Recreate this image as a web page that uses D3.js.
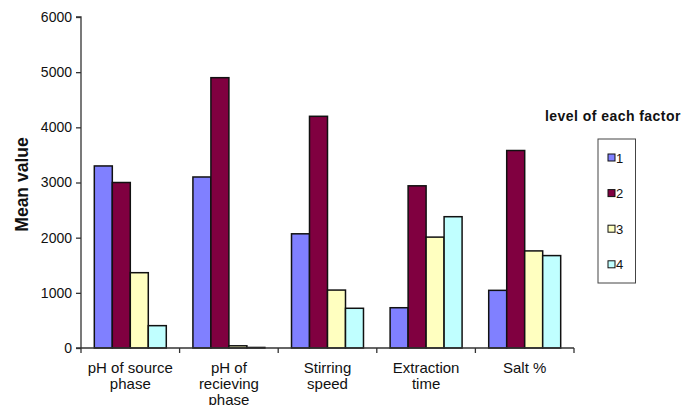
<!DOCTYPE html>
<html>
<head>
<meta charset="utf-8">
<script src="https://cdn.jsdelivr.net/npm/d3@7"></script>
<style>
  body { margin: 0; background: #fff; }
  svg { display: block; }
  text { font-family: Arial, "Liberation Sans", sans-serif; fill: #111; }
</style>
</head>
<body>
<svg id="chart" width="681" height="405"></svg>
<script>
const categories = [["pH of source", "phase"], ["pH of", "recieving", "phase"], ["Stirring", "speed"], ["Extraction", "time"], ["Salt %"]];
const categoryKeys = ["pH of source phase", "pH of recieving phase", "Stirring speed", "Extraction time", "Salt %"];
const seriesNames = ["1", "2", "3", "4"];
const level1 = [3300, 3100, 2070, 730, 1045];
const level2 = [3000, 4900, 4200, 2940, 3580];
const level3 = [1365, 40, 1050, 2010, 1760];
const level4 = [405, 10, 720, 2380, 1675];
const yTicks = [0, 1000, 2000, 3000, 4000, 5000, 6000];
const colors = ["#8080FF", "#800040", "#FFFFC0", "#C0FFFF"];
const legendTitle = "level of each factor";
const yTitle = "Mean value";

const series = [level1, level2, level3, level4];
const svg = d3.select("#chart");

const mLeft = 81, mRight = 574, mTop = 17, mBottom = 348;

const x0 = d3.scaleBand().domain(categoryKeys).range([mLeft, mRight]).paddingInner(0).paddingOuter(0);
const x1 = d3.scaleBand().domain(seriesNames).range([0, x0.bandwidth()]).paddingInner(0).paddingOuter(0.74);
const y = d3.scaleLinear().domain([0, 6000]).range([mBottom, mTop]);

// bars
const groups = svg.append("g").selectAll("g").data(categoryKeys).join("g")
  .attr("transform", d => `translate(${x0(d)},0)`);
groups.selectAll("rect")
  .data((d, i) => seriesNames.map((s, j) => ({ s, v: series[j][i], j })))
  .join("rect")
  .attr("x", d => x1(d.s))
  .attr("width", x1.bandwidth())
  .attr("y", d => y(d.v))
  .attr("height", d => mBottom - y(d.v))
  .attr("fill", d => colors[d.j])
  .attr("stroke", "#111")
  .attr("stroke-width", 1.5);

// y axis
const yAxis = svg.append("g").attr("transform", `translate(${mLeft},0)`)
  .call(d3.axisLeft(y).tickValues(yTicks).tickSize(5).tickPadding(4).tickFormat(d3.format("d")));
yAxis.select(".domain").attr("stroke", "#333").attr("stroke-width", 1.3).attr("d", `M-5,${mTop}H0V${mBottom}`);
yAxis.selectAll(".tick line").attr("stroke", "#333").attr("stroke-width", 1.3);
yAxis.selectAll(".tick text").style("font-size", "14px").style("font-family", "Arial, 'Liberation Sans', sans-serif").attr("fill", "#111");

// x axis
const xAxisG = svg.append("g");
xAxisG.append("line").attr("x1", mLeft - 5).attr("x2", mRight).attr("y1", mBottom).attr("y2", mBottom)
  .attr("stroke", "#333").attr("stroke-width", 1.3);
const boundaries = categoryKeys.map(k => x0(k)).concat([mRight]);
xAxisG.selectAll("line.tk").data(boundaries).join("line").attr("class", "tk")
  .attr("x1", d => d).attr("x2", d => d).attr("y1", mBottom).attr("y2", mBottom + 5)
  .attr("stroke", "#333").attr("stroke-width", 1.3);

const labels = svg.append("g").selectAll("text").data(categoryKeys).join("text")
  .attr("x", d => x0(d) + x0.bandwidth() / 2)
  .attr("y", 373)
  .attr("text-anchor", "middle")
  .style("font-size", "15px");
labels.each(function(d, i) {
  d3.select(this).selectAll("tspan").data(categories[i]).join("tspan")
    .attr("x", x0(d) + x0.bandwidth() / 2)
    .attr("dy", (t, k) => k === 0 ? 0 : 16)
    .text(t => t);
});

// y title
svg.append("text")
  .attr("transform", "translate(27.5,184.5) rotate(-90)")
  .attr("text-anchor", "middle")
  .style("font-size", "17.5px").style("font-weight", "bold")
  .text(yTitle);

// legend
svg.append("text").attr("x", 545).attr("y", 120.5)
  .style("font-size", "14px").style("font-weight", "bold").style("letter-spacing", "0.45px")
  .text(legendTitle);
svg.append("rect").attr("x", 598).attr("y", 139).attr("width", 37.5).attr("height", 144)
  .attr("fill", "#fff").attr("stroke", "#444").attr("stroke-width", 1);
const leg = svg.append("g").selectAll("g").data(seriesNames).join("g")
  .attr("transform", (d, i) => `translate(608,${157.5 + i * 35.6})`);
leg.append("rect").attr("x", 0).attr("y", -3.5).attr("width", 7).attr("height", 7)
  .attr("fill", (d, i) => colors[i]).attr("stroke", "#111").attr("stroke-width", 1);
leg.append("text").attr("x", 8).attr("y", 5).style("font-size", "13px").text(d => d);
</script>
</body>
</html>
